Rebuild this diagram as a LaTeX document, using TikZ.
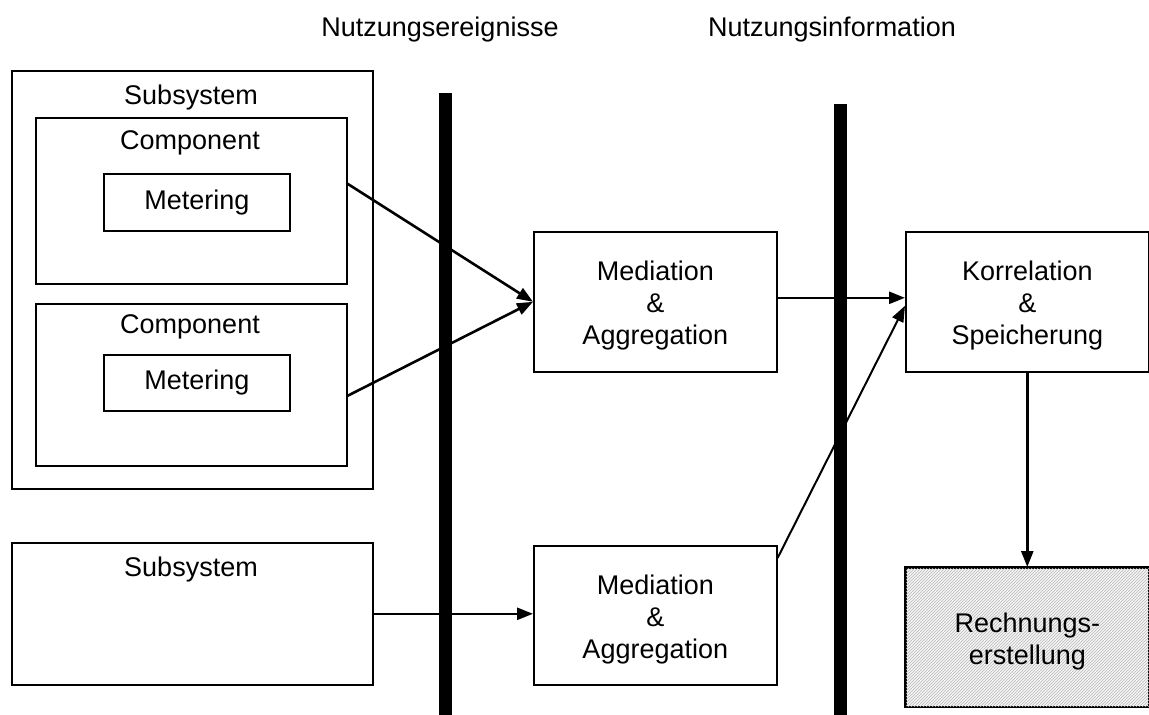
\documentclass[tikz,border=0pt]{standalone}
\usepackage{fontspec}
\setmainfont{Liberation Sans}
\usetikzlibrary{arrows.meta,patterns}
\begin{document}
\begin{tikzpicture}[x=1pt,y=-1pt,
  box/.style={draw=black,line width=1.6pt,inner sep=0pt,anchor=north west},
  txt/.style={font=\fontsize{27}{32}\selectfont,align=center,inner sep=0pt},
  flow/.style={line width=2.6pt,-{Triangle[length=16pt,width=12pt]}},
  thinflow/.style={line width=2pt,-{Triangle[length=16pt,width=12pt]}},
  bar/.style={fill=black}]
\useasboundingbox (0,0) rectangle (1149,715);

% separator bars and their captions
\fill[bar] (439,93) rectangle (452,715);
\fill[bar] (834,104) rectangle (847,715);
\node[txt] (ereig) at (440,30) {Nutzungsereignisse};
\node[txt] (info) at (832,30) {Nutzungsinformation};

% first subsystem with two metered components
\node[box,minimum width=361pt,minimum height=418pt] (sub1) at (11,70) {};
\node[txt] (sub1t) at (191,98) {Subsystem};
\node[box,minimum width=311pt,minimum height=166pt] (comp1) at (35,117) {};
\node[txt] (comp1t) at (190,143) {Component};
\node[box,minimum width=186pt,minimum height=57pt] (met1) at (103,173) {};
\node[txt] at (met1.center) {Metering};
\node[box,minimum width=311pt,minimum height=162pt] (comp2) at (35,303) {};
\node[txt] (comp2t) at (190,327) {Component};
\node[box,minimum width=186pt,minimum height=56pt] (met2) at (103,354) {};
\node[txt] at (met2.center) {Metering};

% second subsystem
\node[box,minimum width=361pt,minimum height=142pt] (sub2) at (11,542) {};
\node[txt] (sub2t) at (191,570) {Subsystem};

% processing stages
\node[box,minimum width=243pt,minimum height=140pt] (med1) at (533,231) {};
\node[txt] at ([yshift=-4pt]med1.center) {Mediation\\\&\\Aggregation};
\node[box,minimum width=243pt,minimum height=139pt] (med2) at (533,545) {};
\node[txt] at ([yshift=-4pt]med2.center) {Mediation\\\&\\Aggregation};
\node[box,minimum width=243pt,minimum height=140pt] (kor) at (905,231) {};
\node[txt] at ([yshift=-4pt]kor.center) {Korrelation\\\&\\Speicherung};
\node[box,fill=gray!8,minimum width=243pt,minimum height=139pt] (rech) at (905,567) {};
\fill[pattern=north east lines,pattern color=gray!55] (rech.south west) rectangle (rech.north east);
\draw[line width=1.6pt] (rech.south west) rectangle (rech.north east);
\node[txt] at ([yshift=-4pt]rech.center) {Rechnungs-\\erstellung};

% connectors
\draw[flow] ([yshift=17pt]comp1.east) -- (med1.west);
\draw[flow] ([yshift=-11pt]comp2.east) -- (med1.west);
\draw[flow] ([yshift=4pt]med1.east) -- ([yshift=4pt]med1.east -| kor.west);
\draw[thinflow] ([yshift=-13pt]med2.north east) -- ([yshift=-4pt]kor.west);
\draw[flow] (sub2.east) -- (sub2.east -| med2.west);
\draw[flow] (kor.south) -- (rech.north);
\end{tikzpicture}
\end{document}
